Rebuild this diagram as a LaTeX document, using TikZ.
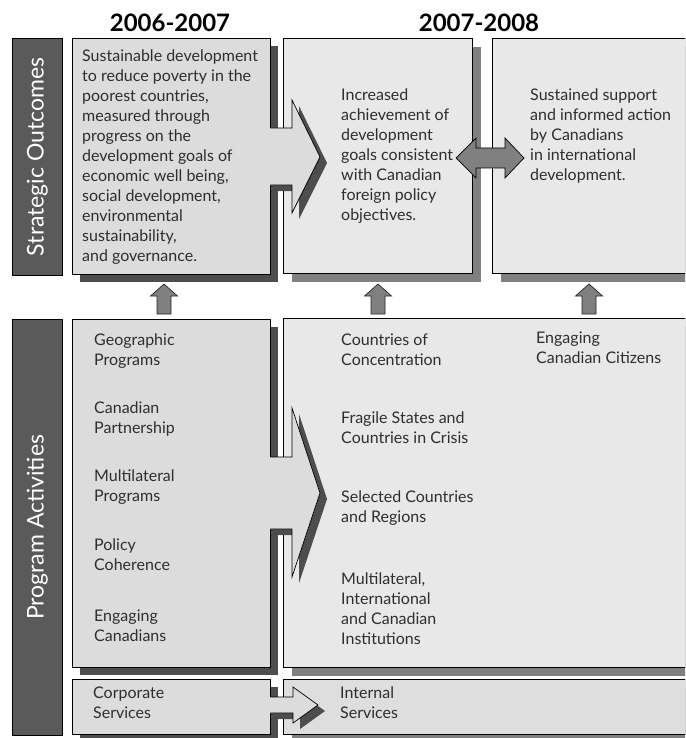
\documentclass[tikz,border=0pt]{standalone}
\usepackage{fontspec}
\setmainfont{Lato}
\usetikzlibrary{positioning,shadows}
\definecolor{oldfill}{HTML}{DCDCDC}
\definecolor{newfill}{HTML}{E8E8E8}
\definecolor{servfill}{HTML}{DEDEDE}
\definecolor{darkshade}{HTML}{4D4D4D}
\definecolor{midshade}{HTML}{808080}
\definecolor{barfill}{HTML}{5A5A5A}
\definecolor{inkgray}{HTML}{2E2E2E}
\tikzset{old box/.style={rectangle,draw=black,fill=oldfill,line width=0.8pt,anchor=north west,inner sep=0pt,drop shadow={shadow xshift=8pt,shadow yshift=-8pt,fill=darkshade,opacity=1}},}
\tikzset{new box/.style={rectangle,draw=black,fill=newfill,line width=0.8pt,anchor=north west,inner sep=0pt,drop shadow={shadow xshift=9pt,shadow yshift=-9pt,fill=midshade,opacity=1}},}
\tikzset{side bar/.style={rectangle,draw=black,fill=barfill,line width=0.8pt,anchor=north west,inner sep=0pt},}
\tikzset{side label/.style={rotate=90,anchor=center,text=white,inner sep=0pt,font=\fontsize{23}{23}\selectfont},}
\tikzset{year label/.style={anchor=base,inner sep=0pt,font=\bfseries\fontsize{24}{24}\selectfont},}
\tikzset{box text/.style={anchor=north west,align=left,inner sep=0pt,text=inkgray,font=\fontsize{16}{20}\selectfont,execute at begin node={\rule{0pt}{14pt}}},}
\tikzset{block arrow/.style={fill=oldfill,drop shadow={shadow xshift=7pt,shadow yshift=-6pt,fill=darkshade,opacity=1}},}
\tikzset{arrow rim/.style={draw=black,line width=0.7pt,line join=miter},}
\tikzset{up arrow/.style={draw=black!85,fill=midshade,line width=0.7pt},}

\begin{document}
\begin{tikzpicture}[x=1pt,y=-1pt]
    \clip (0,0) rectangle (685,738);
    \useasboundingbox (0,0) rectangle (685,738);

    % years
    \node[year label] (y1) at (170,32) {2006-2007};
    \node[year label] (y2) at (479,32) {2007-2008};

    % side bars
    \node[side bar,minimum width=50pt,minimum height=237pt] (sobar) at (12,38) {};
    \node[side bar,minimum width=50pt,minimum height=416pt] (pabar) at (12,319) {};
    \node[side label] at (sobar.center) {Strategic Outcomes};
    \node[side label] at (pabar.center) {Program Activities};

    % strategic outcomes
    \node[new box,minimum width=189pt,minimum height=235pt] (somid) at (283,38) {};
    \node[new box,minimum width=193pt,minimum height=235pt] (soright) at (492,38) {};
    \node[old box,minimum width=198pt,minimum height=236pt] (soold) at (72,38) {};

    % program activities
    \node[new box,minimum width=402pt,minimum height=349pt] (panew) at (283,318) {};
    \node[old box,minimum width=198pt,minimum height=348pt] (paold) at (72,319) {};
    \node[new box,fill=servfill,minimum width=402pt,minimum height=55pt] (internal) at (283,679) {};
    \node[old box,minimum width=198pt,minimum height=55pt] (corporate) at (72,679) {};

    % arrows old -> new
    \fill[block arrow] (269.6,128) -- (292,128) -- (292,100) -- (320,157) -- (292,213) -- (292,185) -- (269.6,185) -- cycle;
    \draw[arrow rim] (270.4,128) -- (292,128) -- (292,100) -- (320,157) -- (292,213) -- (292,185) -- (270.4,185);
    \fill[block arrow] (269.6,457) -- (292,457) -- (292,408) -- (320,493) -- (292,577) -- (292,529) -- (269.6,529) -- cycle;
    \draw[arrow rim] (270.4,457) -- (292,457) -- (292,408) -- (320,493) -- (292,577) -- (292,529) -- (270.4,529);
    \fill[block arrow] (269.6,697) -- (293,697) -- (293,687) -- (318,705) -- (293,723) -- (293,713) -- (269.6,713) -- cycle;
    \draw[arrow rim] (270.4,697) -- (293,697) -- (293,687) -- (318,705) -- (293,723) -- (293,713) -- (270.4,713);

    % two way arrow
    \draw[up arrow,draw=black] (456,158) -- (476,138) -- (476,148) -- (505,148) -- (505,138) -- (524,158)
        -- (505,178) -- (505,168) -- (476,168) -- (476,178) -- cycle;

    % up arrows
    \foreach \cx in {164,378,589}
        \draw[up arrow] (\cx,284) -- (\cx+13.5,296) -- (\cx+7,296) -- (\cx+7,314) -- (\cx-7,314)
            -- (\cx-7,296) -- (\cx-13.5,296) -- cycle;

    % texts
    \node[box text] (t1) at (82,50) {Sustainable development\\to reduce poverty in the\\poorest countries,\\measured through\\progress on the\\development goals of\\economic well being,\\social development,\\environmental\\sustainability,\\and governance.};
    \node[box text] (t2) at (341,89) {Increased\\achievement of\\development\\goals consistent\\with Canadian\\foreign policy\\objectives.};
    \node[box text] (t3) at (530,89) {Sustained support\\and informed action\\by Canadians\\in international\\development.};

    \node[box text] (p1) at (94,334) {Geographic\\Programs};
    \node[box text] (p2) at (94,402) {Canadian\\Partnership};
    \node[box text] (p3) at (94,470) {Multilateral\\Programs};
    \node[box text] (p4) at (94,539) {Policy\\Coherence};
    \node[box text] (p5) at (94,610) {Engaging\\Canadians};

    \node[box text] (n1) at (341,334) {Countries of\\Concentration};
    \node[box text] (n2) at (341,412) {Fragile States and\\Countries in Crisis};
    \node[box text] (n3) at (341,491) {Selected Countries\\and Regions};
    \node[box text] (n4) at (341,573) {Multilateral,\\International\\and Canadian\\Institutions};
    \node[box text] (n5) at (536,332) {Engaging\\Canadian Citizens};

    \node[box text] (c1) at (93,687) {Corporate\\Services};
    \node[box text] (c2) at (340,687) {Internal\\Services};
\end{tikzpicture}
\end{document}
